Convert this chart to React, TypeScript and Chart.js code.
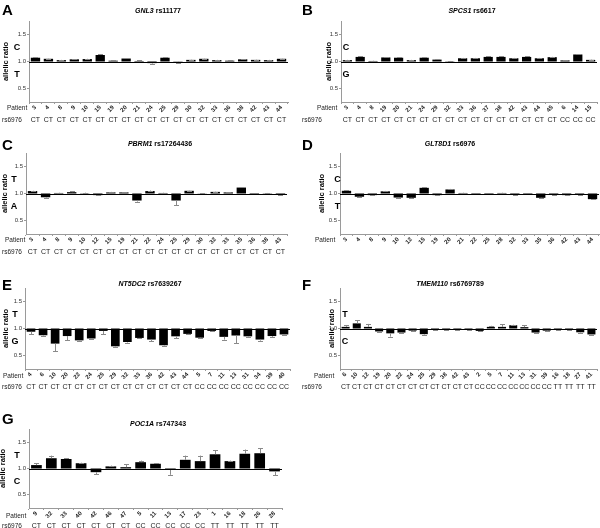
import React, { useEffect, useRef } from "react";
import { Chart, registerables } from "chart.js";
Chart.register(...registerables);

// ---------------- DATA ----------------
const patientsA = ["3","4","8","9","10","15","19","20","21","24","25","29","30","32","33","36","38","42","43","44"];
const ratiosA = [1.07,1.05,1.025,1.04,1.045,1.12,1.015,1.055,1.01,0.97,1.07,0.995,1.03,1.05,1.025,1.015,1.04,1.03,1.025,1.05];
const errorsA = [0.01,0.005,0.005,0.005,0.005,0.012,0.005,0.005,0.01,0.01,0.012,0.02,0.005,0.005,0.005,0.005,0.005,0.005,0.005,0.005];
const genotypesA = ["CT","CT","CT","CT","CT","CT","CT","CT","CT","CT","CT","CT","CT","CT","CT","CT","CT","CT","CT","CT"];

const patientsB = ["3","4","8","19","20","21","24","29","32","33","36","37","38","42","43","44","45","6","14","15"];
const ratiosB = [1.025,1.085,1.01,1.075,1.07,1.025,1.07,1.035,1.005,1.06,1.06,1.085,1.085,1.06,1.085,1.06,1.08,1.02,1.13,1.03];
const errorsB = [0.005,0.008,0.005,0.006,0.01,0.005,0.008,0.006,0.005,0.006,0.006,0.008,0.01,0.006,0.01,0.006,0.006,0.005,0.008,0.006];
const genotypesB = ["CT","CT","CT","CT","CT","CT","CT","CT","CT","CT","CT","CT","CT","CT","CT","CT","CT","CC","CC","CC"];

const patientsC = ["3","4","8","9","10","12","15","19","21","22","24","25","29","30","32","33","35","36","38","43"];
const ratiosC = [1.045,0.93,1.01,1.025,1.005,0.97,1.02,1.02,0.87,1.045,1.01,0.87,1.05,1.003,1.03,1.02,1.11,0.99,1.005,0.975];
const errorsC = [0.005,0.01,0.005,0.015,0.01,0.005,0.01,0.005,0.02,0.01,0.005,0.09,0.005,0.005,0.005,0.005,0.01,0.005,0.005,0.01];
const genotypesC = ["CT","CT","CT","CT","CT","CT","CT","CT","CT","CT","CT","CT","CT","CT","CT","CT","CT","CT","CT","CT"];

const patientsD = ["3","4","8","9","10","12","15","19","20","21","22","25","28","32","33","35","36","42","43","44"];
const ratiosD = [1.05,0.94,0.97,1.04,0.925,0.92,1.105,0.97,1.075,1.01,0.99,0.99,1.01,0.985,0.99,0.92,0.98,0.97,0.975,0.895];
const errorsD = [0.006,0.008,0.006,0.008,0.012,0.006,0.012,0.006,0.01,0.005,0.006,0.006,0.005,0.006,0.006,0.006,0.006,0.006,0.006,0.006];
const genotypesD: string[] = [];

const patientsE = ["4","6","10","20","22","24","25","29","32","33","36","42","43","44","5","7","11","13","31","34","39","40"];
const ratiosE = [0.94,0.875,0.72,0.86,0.78,0.815,0.955,0.67,0.75,0.825,0.795,0.69,0.855,0.9,0.83,0.955,0.845,0.87,0.855,0.795,0.86,0.89];
const errorsE = [0.05,0.01,0.14,0.08,0.01,0.01,0.06,0.01,0.01,0.01,0.03,0.01,0.03,0.01,0.01,0.01,0.05,0.14,0.01,0.02,0.015,0.01];
const genotypesE = ["CT","CT","CT","CT","CT","CT","CT","CT","CT","CT","CT","CT","CT","CT","CC","CC","CC","CC","CC","CC","CC","CC"];

const patientsF = ["6","10","12","19","20","22","24","25","29","38","42","43","2","5","7","11","13","31","39","16","18","27","41"];
const ratiosF = [1.03,1.095,1.03,0.945,0.91,0.925,0.96,0.895,0.975,0.98,0.98,0.975,0.955,1.03,1.03,1.06,1.025,0.925,0.96,0.98,0.98,0.93,0.89];
const errorsF = [0.035,0.06,0.055,0.01,0.06,0.01,0.01,0.01,0.01,0.01,0.01,0.01,0.01,0.02,0.05,0.01,0.04,0.01,0.01,0.005,0.005,0.01,0.01];
const genotypesF = ["CT","CT","CT","CT","CT","CT","CT","CT","CT","CT","CT","CT","CC","CC","CC","CC","CC","CC","CC","TT","TT","TT","TT"];

const patientsG = ["9","32","33","40","42","46","47","5","11","13","17","23","1","16","18","26","28"];
const ratiosG = [1.065,1.195,1.18,1.1,0.93,1.04,1.025,1.12,1.09,0.98,1.165,1.14,1.27,1.14,1.28,1.29,0.945];
const errorsG = [0.035,0.05,0.01,0.01,0.04,0.015,0.055,0.03,0.01,0.1,0.08,0.105,0.08,0.01,0.08,0.09,0.07];
const genotypesG = ["CT","CT","CT","CT","CT","CT","CT","CC","CC","CC","CC","CC","TT","TT","TT","TT","TT"];

const yTicks = [0.5, 1.0, 1.5];
const yMin = 0.25;
const yMax = 1.75;
const refValue = 1.0;

// ---------------- LAYOUT / STYLE ----------------
const FONT = "'Liberation Sans', Arial, Helvetica, sans-serif";
const AXIS_GRAY = "#9a9a9a";
const ERR_GRAY = "#8a8a8a";

type Panel = {
  letter: string; gene: string; snp: string;
  patients: string[]; ratios: number[]; errors: number[]; genotypes: string[];
  hi: string; lo: string;
  ox: number; oy: number; w: number; h: number;
  axisX: number; right: number; top: number; bottom: number;
  titleX: number; titleY: number; letterX: number; letterY: number;
  ylabX: number; alleleX: number; patientX: number; patientY: number; rsX: number; rsY: number;
};

const PANELS: Panel[] = [
  { letter: "A", gene: "GNL3", snp: "rs11177", patients: patientsA, ratios: ratiosA, errors: errorsA, genotypes: genotypesA, hi: "C", lo: "T",
    ox: 0, oy: 0, w: 300, h: 133, axisX: 29, right: 288, top: 21, bottom: 102,
    titleX: 158, titleY: 11, letterX: 2, letterY: 15, ylabX: 5.5, alleleX: 17, patientX: 7, patientY: 108, rsX: 2, rsY: 120 },
  { letter: "B", gene: "SPCS1", snp: "rs6617", patients: patientsB, ratios: ratiosB, errors: errorsB, genotypes: genotypesB, hi: "C", lo: "G",
    ox: 300, oy: 0, w: 300, h: 133, axisX: 341, right: 597, top: 21, bottom: 102,
    titleX: 472, titleY: 11, letterX: 302, letterY: 15, ylabX: 329, alleleX: 346, patientX: 317, patientY: 108, rsX: 302, rsY: 120 },
  { letter: "C", gene: "PBRM1", snp: "rs17264436", patients: patientsC, ratios: ratiosC, errors: errorsC, genotypes: genotypesC, hi: "T", lo: "A",
    ox: 0, oy: 135, w: 300, h: 135, axisX: 26, right: 287, top: 153, bottom: 234,
    titleX: 160, titleY: 144, letterX: 2, letterY: 150, ylabX: 4.5, alleleX: 14, patientX: 5, patientY: 240, rsX: 2, rsY: 252 },
  { letter: "D", gene: "GLT8D1", snp: "rs6976", patients: patientsD, ratios: ratiosD, errors: errorsD, genotypes: genotypesD, hi: "C", lo: "T",
    ox: 300, oy: 135, w: 300, h: 135, axisX: 340, right: 599, top: 153, bottom: 234,
    titleX: 450, titleY: 144, letterX: 302, letterY: 150, ylabX: 322, alleleX: 337.5, patientX: 315, patientY: 240, rsX: 302, rsY: 252 },
  { letter: "E", gene: "NT5DC2", snp: "rs7639267", patients: patientsE, ratios: ratiosE, errors: errorsE, genotypes: genotypesE, hi: "T", lo: "G",
    ox: 0, oy: 272, w: 300, h: 133, axisX: 25, right: 290, top: 288, bottom: 369,
    titleX: 150, titleY: 284, letterX: 2, letterY: 290, ylabX: 5.5, alleleX: 15, patientX: 3, patientY: 376, rsX: 2, rsY: 387 },
  { letter: "F", gene: "TMEM110", snp: "rs6769789", patients: patientsF, ratios: ratiosF, errors: errorsF, genotypes: genotypesF, hi: "T", lo: "C",
    ox: 300, oy: 272, w: 300, h: 133, axisX: 340, right: 597, top: 288, bottom: 369,
    titleX: 450, titleY: 284, letterX: 302, letterY: 290, ylabX: 332, alleleX: 345, patientX: 314, patientY: 376, rsX: 302, rsY: 387 },
  { letter: "G", gene: "POC1A", snp: "rs747343", patients: patientsG, ratios: ratiosG, errors: errorsG, genotypes: genotypesG, hi: "T", lo: "C",
    ox: 0, oy: 405, w: 300, h: 123, axisX: 29, right: 282, top: 429, bottom: 508,
    titleX: 158, titleY: 424, letterX: 2, letterY: 424, ylabX: 3, alleleX: 17, patientX: 6, patientY: 516, rsX: 2, rsY: 526 },
];

const Y_W = 14;
const X_H = 12;

function makeOverlay(p: Panel) {
  return {
    id: "overlay" + p.letter,
    afterDatasetsDraw(chart: any) {
      const ctx = chart.ctx as CanvasRenderingContext2D;
      const xs = chart.scales.x;
      const ys = chart.scales.y;
      const area = chart.chartArea;
      ctx.save();
      ctx.strokeStyle = ERR_GRAY;
      ctx.lineWidth = 1;
      p.ratios.forEach((r, i) => {
        const e = p.errors[i];
        const end = r >= refValue ? r + e : r - e;
        const x = Math.round(xs.getPixelForValue(i)) + 0.5;
        const y0 = ys.getPixelForValue(r);
        const y1 = ys.getPixelForValue(end);
        ctx.beginPath();
        ctx.moveTo(x, y0);
        ctx.lineTo(x, y1);
        ctx.moveTo(x - 2.5, Math.round(y1) + 0.5);
        ctx.lineTo(x + 2.5, Math.round(y1) + 0.5);
        ctx.stroke();
      });
      const yr = Math.round(ys.getPixelForValue(refValue)) + 0.5;
      ctx.strokeStyle = "#000";
      ctx.lineWidth = 1;
      ctx.beginPath();
      ctx.moveTo(area.left, yr);
      ctx.lineTo(area.right, yr);
      ctx.stroke();
      ctx.restore();
    },
    afterDraw(chart: any) {
      const ctx = chart.ctx as CanvasRenderingContext2D;
      const xs = chart.scales.x;
      const ys = chart.scales.y;
      const area = chart.chartArea;
      const lx = (v: number) => v - p.ox;
      const ly = (v: number) => v - p.oy;
      ctx.save();
      ctx.fillStyle = "#000";
      ctx.font = `bold 15px ${FONT}`;
      ctx.textAlign = "left";
      ctx.textBaseline = "alphabetic";
      ctx.fillText(p.letter, lx(p.letterX), ly(p.letterY));
      ctx.textBaseline = "middle";
      const f1 = `italic bold 7px ${FONT}`;
      const f2 = `bold 7px ${FONT}`;
      ctx.font = f1;
      const w1 = ctx.measureText(p.gene).width;
      ctx.font = f2;
      const w2 = ctx.measureText(" " + p.snp).width;
      const sx = lx(p.titleX) - (w1 + w2) / 2;
      ctx.font = f1;
      ctx.fillText(p.gene, sx, ly(p.titleY));
      ctx.font = f2;
      ctx.fillText(" " + p.snp, sx + w1, ly(p.titleY));
      ctx.save();
      ctx.translate(lx(p.ylabX), (area.top + area.bottom) / 2);
      ctx.rotate(-Math.PI / 2);
      ctx.textAlign = "center";
      ctx.font = `bold 7.5px ${FONT}`;
      ctx.fillText("allelic ratio", 0, 0);
      ctx.restore();
      ctx.textAlign = "center";
      ctx.font = `bold 9px ${FONT}`;
      ctx.fillText(p.hi, lx(p.alleleX), ys.getPixelForValue(1.25));
      ctx.fillText(p.lo, lx(p.alleleX), ys.getPixelForValue(0.75));
      ctx.textAlign = "left";
      ctx.font = `6.5px ${FONT}`;
      ctx.fillStyle = "#222";
      ctx.fillText("Patient", lx(p.patientX), ly(p.patientY));
      if (p.genotypes.length) {
        ctx.fillText("rs6976", lx(p.rsX), ly(p.rsY));
        ctx.textAlign = "center";
        ctx.font = `7px ${FONT}`;
        p.genotypes.forEach((g, i) => {
          ctx.fillText(g, xs.getPixelForValue(i), ly(p.rsY));
        });
      }
      ctx.restore();
    },
  };
}

function buildConfig(p: Panel): any {
  const axisL = p.axisX - p.ox;
  const rightL = p.right - p.ox;
  const topL = p.top - p.oy;
  const bottomL = p.bottom - p.oy;
  return {
    type: "bar",
    data: {
      labels: p.patients,
      datasets: [
        {
          data: p.ratios.map((v) => [refValue, v]),
          backgroundColor: "#000",
          borderWidth: 0,
          barPercentage: 0.72,
          categoryPercentage: 1,
        },
      ],
    },
    options: {
      responsive: false,
      animation: false,
      layout: {
        padding: { left: axisL - Y_W, right: p.w - rightL, top: topL, bottom: p.h - bottomL - X_H },
      },
      plugins: { legend: { display: false }, tooltip: { enabled: false }, title: { display: false } },
      scales: {
        x: {
          type: "category",
          offset: true,
          afterFit: (s: any) => { s.height = X_H; },
          grid: { drawOnChartArea: false, tickLength: 2, color: AXIS_GRAY, offset: true },
          border: { color: AXIS_GRAY, width: 1 },
          ticks: {
            autoSkip: false, minRotation: 45, maxRotation: 45, padding: 0,
            color: "#222", font: { family: FONT, size: 6, weight: "bold" },
          },
        },
        y: {
          type: "linear",
          min: yMin, max: yMax,
          afterFit: (s: any) => { s.width = Y_W; },
          afterBuildTicks: (s: any) => { s.ticks = yTicks.map((v) => ({ value: v })); },
          grid: { drawOnChartArea: false, tickLength: 2, color: AXIS_GRAY },
          border: { color: AXIS_GRAY, width: 1 },
          ticks: {
            padding: 1, color: "#333", font: { family: FONT, size: 6 },
            callback: (v: any) => Number(v).toFixed(1),
          },
        },
      },
    },
    plugins: [makeOverlay(p)],
  };
}

function PanelChart({ panel }: { panel: Panel }) {
  const ref = useRef<HTMLCanvasElement>(null);
  useEffect(() => {
    const chart = new Chart(ref.current as HTMLCanvasElement, buildConfig(panel));
    return () => chart.destroy();
  }, [panel]);
  return (
    <canvas
      ref={ref}
      width={panel.w}
      height={panel.h}
      style={{ position: "absolute", left: panel.ox, top: panel.oy, width: panel.w, height: panel.h }}
    />
  );
}

export default function App() {
  return (
    <div style={{ position: "absolute", left: 0, top: 0, width: 600, height: 528, background: "#fff", overflow: "hidden" }}>
      {PANELS.map((p) => (
        <PanelChart key={p.letter} panel={p} />
      ))}
    </div>
  );
}
